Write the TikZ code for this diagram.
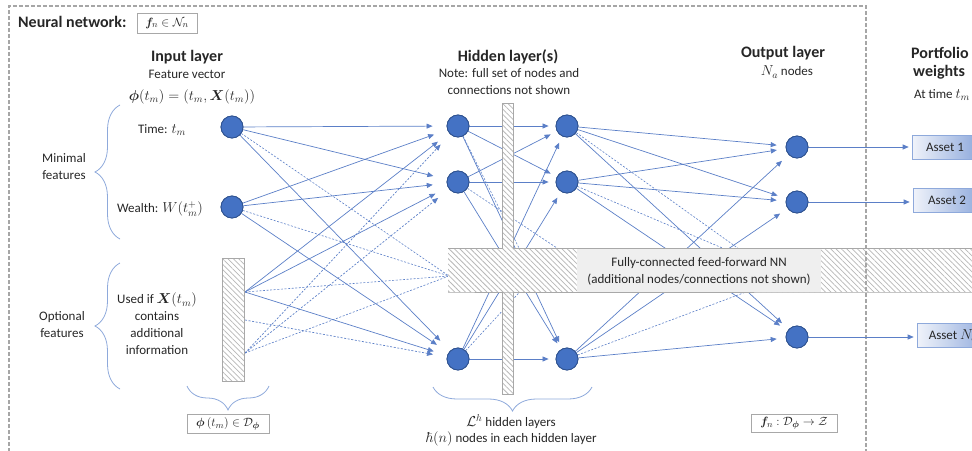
\documentclass[tikz,border=0pt]{standalone}
\usepackage{amsmath,amssymb,bm}
\usepackage[no-math]{fontspec}
\setmainfont{Carlito}
\usetikzlibrary{arrows.meta,patterns.meta,decorations.pathreplacing,calc}
\definecolor{nodeblue}{HTML}{4472C4}
\definecolor{nodeedge}{HTML}{2F528F}
\definecolor{edgeblue}{HTML}{5B7FC7}
\definecolor{hatchgray}{HTML}{B8B8B8}
\definecolor{bordgray}{HTML}{A8A8A8}
\definecolor{framegray}{HTML}{A6A6A6}
\definecolor{bracecol}{HTML}{8EA9DB}
\definecolor{boxgray}{HTML}{EFEFEF}
\definecolor{assetL}{HTML}{F0F3FA}
\definecolor{assetR}{HTML}{8FAADC}
\definecolor{txtcol}{HTML}{262626}
\newcommand{\mth}[1]{{\fontsize{14.5}{17}\selectfont$#1$}}
\tikzset{
  neuron/.style={circle, fill=nodeblue, draw=nodeedge, line width=0.8pt, minimum size=22pt, inner sep=0pt},
  conn/.style={draw=edgeblue, line width=0.7pt, -{Triangle[length=6pt,width=5pt]}},
  dconn/.style={conn, dash pattern=on 2pt off 1.6pt},
  dline/.style={draw=edgeblue, line width=0.6pt, dash pattern=on 2pt off 1.6pt},
  ca/.style={conn, shorten >=14pt},
  dca/.style={dconn, shorten >=14pt},
  cb/.style={conn, shorten >=7pt},
  cc/.style={conn, shorten >=9pt},
  hatch/.style={pattern={Lines[angle=-45,distance=3.8pt,line width=0.75pt]}, pattern color=hatchgray},
  txt/.style={font=\fontsize{13}{17}\selectfont, text=txtcol, align=center, inner sep=0pt},
  ttl/.style={font=\bfseries\fontsize{16}{19}\selectfont, text=txtcol, align=center, inner sep=0pt},
  mbox/.style={draw=bordgray, fill=white, line width=0.6pt, inner sep=0pt, text=txtcol, font=\fontsize{13}{16}\selectfont},
  brc/.style={draw=bracecol, line width=0.8pt, decorate, decoration={brace, amplitude=#1}},
  assetbox/.style={draw=bracecol, line width=0.6pt, left color=assetL, right color=assetR, inner sep=0pt, minimum height=24pt, font=\fontsize{13}{16}\selectfont, text=txtcol},
}
\begin{document}
\begin{tikzpicture}[x=1pt,y=-1pt]
\useasboundingbox (0,0) rectangle (972,450);
\clip (0,0) rectangle (972,450);

% ---------- nodes ----------
\node[neuron] (t) at (232,127) {};
\node[neuron] (w) at (232,207) {};
\node[neuron] (h1a) at (458,126) {};
\node[neuron] (h1b) at (458,182) {};
\node[neuron] (h1c) at (458,359) {};
\node[neuron] (h2a) at (567,126) {};
\node[neuron] (h2b) at (567,182) {};
\node[neuron] (h2c) at (567,359) {};
\node[neuron] (o1) at (797,147) {};
\node[neuron] (o2) at (797,202) {};
\node[neuron] (o3) at (797,337) {};

\coordinate (r1) at (245,292);
\coordinate (r2) at (245,320);
\coordinate (r3) at (245,353);
\coordinate (bin) at (449,276);
\coordinate (bh1) at (530,270);
\coordinate (bh2) at (590,270);
\coordinate (bh3) at (540,270);
\coordinate (bo1) at (760,264);
\coordinate (bo2) at (770,283);

% ---------- input -> hidden 1 ----------
\foreach \s in {t,w,r1}{
  \foreach \d in {h1a,h1b,h1c}{ \draw[ca] (\s) -- (\d); }
  \draw[dline] (\s) -- (bin);
}
\draw[dca] (r2) -- (h1c);
\draw[dca] (r3) -- (h1a);
\draw[dca] (r3) -- (h1b);
\draw[dline] (r3) -- (bin);

% ---------- hidden 1 -> hidden 2 ----------
\foreach \s in {h1a,h1b,h1c}{
  \foreach \d in {h2a,h2b,h2c}{ \draw[cb] (\s) -- (\d); }
}
\draw[dline] (h1a) -- (bh1);
\draw[dline] (h1b) -- (bh2);
\draw[dline] (h1c) -- (bh3);

% ---------- hidden 2 -> output ----------
\foreach \s in {h2a,h2b,h2c}{
  \foreach \d in {o1,o2,o3}{ \draw[cc] (\s) -- (\d); }
}
\draw[dline] (h2a) -- (bo1);
\draw[dline] (h2b) -- (bo1);
\draw[dline] (h2c) -- (bo2);

% ---------- hatched band and bar ----------
\fill[white] (448,248) rectangle (990,292) (502,103) rectangle (513,394);
\fill[hatch] (448,248) rectangle (990,292) (502,103) rectangle (513,394);
\draw[bordgray, line width=0.7pt] (448,248) -- (502,248) -- (502,103) -- (513,103) -- (513,248) -- (990,248)
  (990,292) -- (513,292) -- (513,394) -- (502,394) -- (502,292) -- (448,292) -- cycle;
\node[fill=boxgray, minimum width=244pt, minimum height=43pt, inner sep=0pt] (bandbox) at (699,270) {};
\node[txt] (bandtxt) at (699,271) {Fully-connected feed-forward NN\\(additional nodes/connections not shown)};

% input hatched rectangle
\fill[white] (222,258) rectangle (244,381);
\draw[hatch, draw=bordgray, line width=0.7pt] (222,258) rectangle (244,381);

% ---------- outer frame ----------
\draw[framegray, line width=1.4pt, dash pattern=on 4pt off 2pt] (9,470) -- (9,6) -- (866,6) -- (866,470);

% ---------- portfolio weights ----------
\node[assetbox, minimum width=66pt] (a1) at (945,147.5) {Asset 1};
\node[assetbox, minimum width=68pt] (a2) at (947,200) {Asset 2};
\node[assetbox, minimum width=72pt] (a3) at (953,335.5) {Asset \mth{N_a}};
\draw[conn, shorten >=3pt] (o1) -- (o1 -| a1.west);
\draw[conn, shorten >=3pt] (o2) -- (o2 -| a2.west);
\draw[conn, shorten >=3pt] (o3) -- (o3 -| a3.west);

% redraw neurons on top
\foreach \p in {(232,127),(232,207),(458,126),(458,182),(458,359),(567,126),(567,182),(567,359),(797,147),(797,202),(797,337)}{
  \node[neuron] at \p {};
}

% ---------- titles and texts ----------
\node[ttl, anchor=west] (nntitle) at (18,22) {Neural network:};
\node[mbox, minimum width=60pt, minimum height=20pt] (nnbox) at (167,23) {$\bm{f}_n \in \mathcal{N}_n$};

\node[ttl] (inttl) at (187,57) {Input layer};
\node[txt] (fv) at (187,74) {Feature vector};
\node[txt] (phi) at (192,97) {\mth{\bm{\phi}(t_m) = (t_m, \bm{X}(t_m))}};

\node[ttl] (hidttl) at (508,57) {Hidden layer(s)};
\node[txt] (note) at (509,82) {Note: full set of nodes and\\connections not shown};

\node[ttl] (outttl) at (783,53) {Output layer};
\node[txt] (na) at (787,72) {\mth{N_a} nodes};

\node[ttl, anchor=west] (pw1) at (911,53) {Portfolio};
\node[ttl, anchor=west] (pw2) at (913,72) {weights};
\node[txt] (attime) at (942,95) {At time \mth{t_m}};

\node[txt] (time) at (162,130) {Time: \mth{t_m}};
\node[txt] (wealth) at (160,209) {Wealth: \mth{W(t^{+}_{m})}};
\node[txt] (minf) at (64,167) {Minimal\\features};
\node[txt] (optf) at (62,325) {Optional\\features};
\node[txt] (used) at (157,324) {Used if \mth{\bm{X}(t_m)}\\contains\\additional\\information};

% braces
\draw[brc=25pt] (120,239) -- (120,105);
\draw[brc=25pt] (120,389) -- (120,263);
\draw[brc=24pt] (269,386) -- (187,386);
\draw[brc=24pt] (592,387) -- (433,387);

\node[mbox, minimum width=82pt, minimum height=19pt] (phibox) at (228,424) {$\bm{\phi}\,(t_m) \in \mathcal{D}_{\bm{\phi}}$};
\node[txt, font=\fontsize{13}{15.5}\selectfont] (hl) at (511,430) {\mth{\mathcal{L}^h} hidden layers\\\mth{\hbar(n)} nodes in each hidden layer};
\node[mbox, minimum width=86pt, minimum height=18pt] (fbox) at (794,423) {$\bm{f}_n : \mathcal{D}_{\bm{\phi}} \rightarrow \mathcal{Z}$};
\end{tikzpicture}
\end{document}
